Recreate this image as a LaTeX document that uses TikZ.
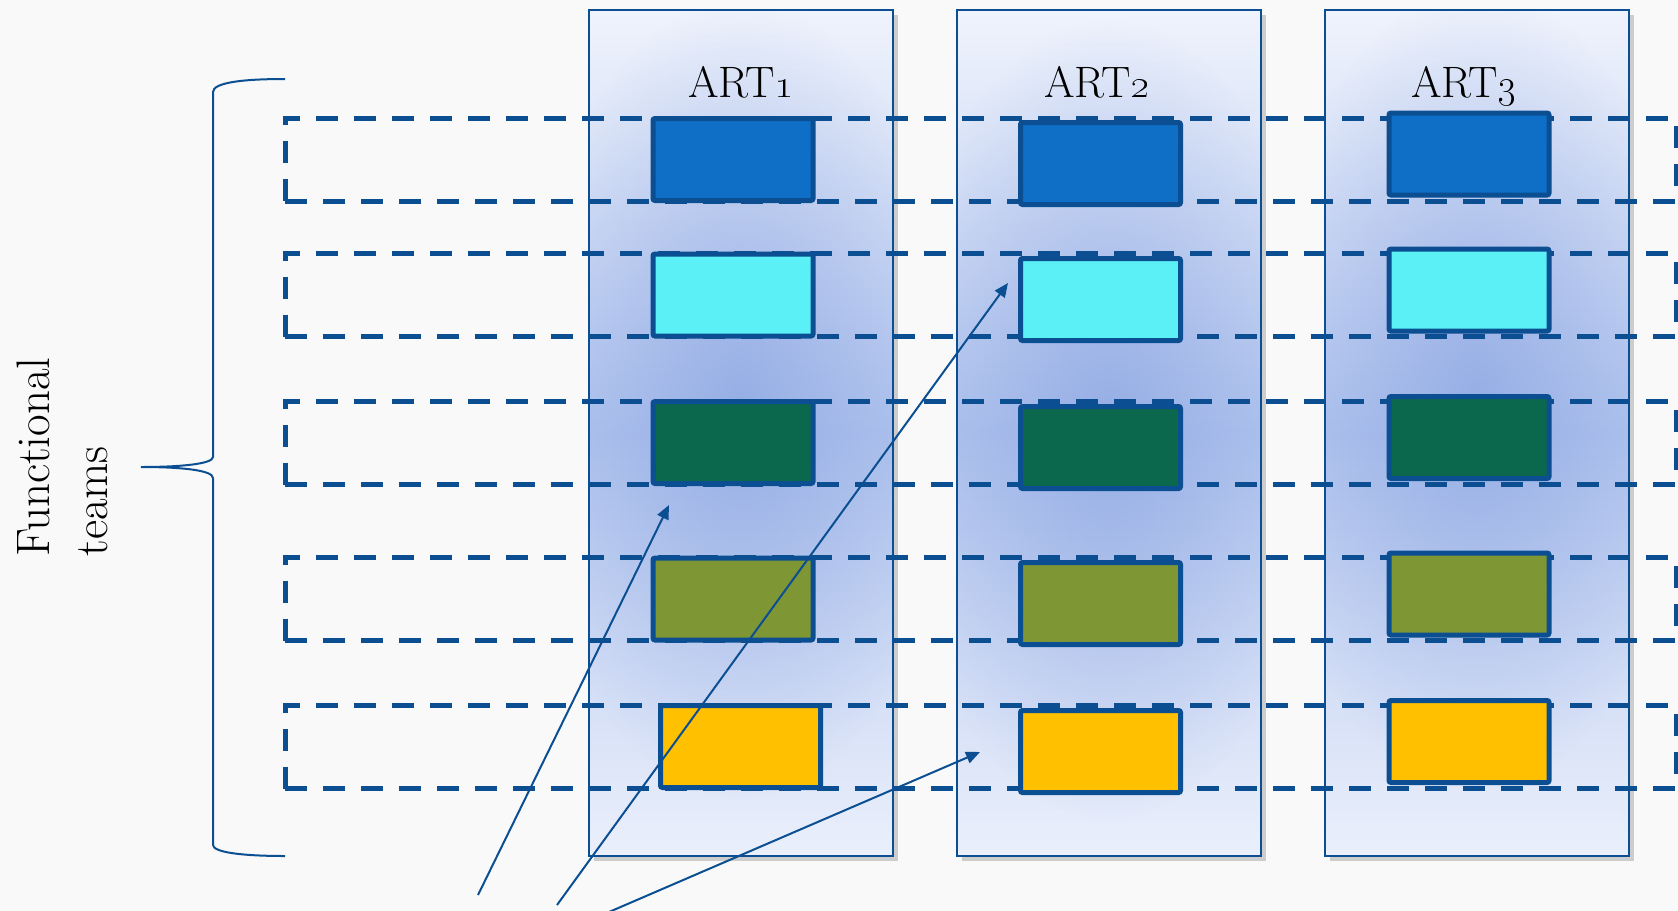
\documentclass[tikz,border=0pt]{standalone}
\usetikzlibrary{arrows.meta,shadows,fadings}
\definecolor{lineblue}{HTML}{0B4F92}
\definecolor{bgc}{HTML}{F9F9F9}
\definecolor{coltop}{HTML}{EFF3FC}
\definecolor{colmid}{HTML}{B3C6EF}
\definecolor{colbot}{HTML}{EAEFFB}
\definecolor{colcore}{HTML}{86A1E0}
\definecolor{cA}{HTML}{0F6FC6}
\definecolor{cB}{HTML}{5BF0F6}
\definecolor{cC}{HTML}{0B684C}
\definecolor{cD}{HTML}{7F9634}
\definecolor{cE}{HTML}{FFC000}
\tikzfading[name=radfade, inner color=transparent!35, outer color=transparent!100]
\tikzset{
  artcol/.style={draw=lineblue, line width=1pt, inner sep=0pt, outer sep=0pt,
    minimum width=152pt, minimum height=423pt, top color=coltop, bottom color=colbot, middle color=colmid,
    drop shadow={shadow xshift=2.5pt, shadow yshift=-2.5pt, opacity=0.25, fill=black!70}},
  rowbox/.style={draw=lineblue, line width=2.5pt, dash pattern=on 11pt off 8pt, inner sep=0pt,
    minimum height=41.5pt},
  teambox/.style={draw=lineblue, line width=2.5pt, rounded corners=1pt, inner sep=0pt,
    minimum width=80pt, minimum height=41pt},
  arttitle/.style={font=\fontsize{22pt}{26pt}\selectfont, anchor=base, inner sep=0pt},
  sidelabel/.style={font=\fontsize{23.5pt}{28pt}\selectfont, rotate=90, anchor=base west, inner sep=0pt},
  conn/.style={draw=lineblue, line width=1pt, -{Triangle[length=7pt,width=6pt]}},
  bracepath/.style={draw=lineblue, line width=1pt},
  colborder/.style={draw=lineblue, line width=1pt}
}
\begin{document}
\begin{tikzpicture}[x=0.5pt,y=-0.5pt]
\fill[bgc] (0,0) rectangle (1678,911);
\useasboundingbox (0,0) rectangle (1678,911);
% columns
\node[artcol] (art1) at (741,433) {};
\node[artcol] (art2) at (1109,433) {};
\node[artcol] (art3) at (1477,433) {};
\begin{scope}
  \clip (art1.south west) rectangle (art1.north east);
  \fill[colcore, path fading=radfade] (741,400) ellipse (220 and 400);
\end{scope}
\begin{scope}
  \clip (art2.south west) rectangle (art2.north east);
  \fill[colcore, path fading=radfade] (1109,420) ellipse (220 and 400);
\end{scope}
\begin{scope}
  \clip (art3.south west) rectangle (art3.north east);
  \fill[colcore, path fading=radfade] (1477,390) ellipse (220 and 400);
\end{scope}
\draw[colborder] (art1.south west) rectangle (art1.north east);
\draw[colborder] (art2.south west) rectangle (art2.north east);
\draw[colborder] (art3.south west) rectangle (art3.north east);
% titles
\node[arttitle] (title1) at (741,97) {ART\oldstylenums{1}};
\node[arttitle] (title2) at (1097,97) {ART\oldstylenums{2}};
\node[arttitle] (title3) at (1464,97) {ART\oldstylenums{3}};
% dashed functional rows
\node[rowbox, minimum width=695.5pt] (row1) at (980.5,159.5) {};
\node[rowbox, minimum width=695.5pt] (row2) at (980.5,295) {};
\node[rowbox, minimum width=695.5pt] (row3) at (980.5,443) {};
\node[rowbox, minimum width=695.5pt] (row4) at (980.5,599) {};
\node[rowbox, minimum width=695.5pt] (row5) at (980.5,747) {};
% team boxes ART1
\node[teambox, fill=cA] (a1) at (733,159.5) {};
\node[teambox, fill=cB] (a2) at (733,295) {};
\node[teambox, fill=cC] (a3) at (733,442.5) {};
\node[teambox, fill=cD] (a4) at (733,599) {};
\node[teambox, fill=cE] (a5) at (740.5,746.5) {};
% team boxes ART2
\node[teambox, fill=cA] (b1) at (1100.5,163.5) {};
\node[teambox, fill=cB] (b2) at (1100.5,299.5) {};
\node[teambox, fill=cC] (b3) at (1100.5,447.5) {};
\node[teambox, fill=cD] (b4) at (1100.5,603.5) {};
\node[teambox, fill=cE] (b5) at (1100.5,751.5) {};
% team boxes ART3
\node[teambox, fill=cA] (c1) at (1469,154) {};
\node[teambox, fill=cB] (c2) at (1469,290) {};
\node[teambox, fill=cC] (c3) at (1469,437.5) {};
\node[teambox, fill=cD] (c4) at (1469,594) {};
\node[teambox, fill=cE] (c5) at (1469,741.5) {};
% brace
\draw[bracepath] (285,79) .. controls (240,79) and (213,83) .. (213,92) -- (213,457)
  .. controls (213,464) and (180,467) .. (141,467)
  .. controls (180,467) and (213,470) .. (213,478) -- (213,845)
  .. controls (213,852) and (240,856) .. (285,856);
% side label
\node[sidelabel] (lab1) at (49,557) {Functional};
\node[sidelabel] (lab2) at (107,557) {teams};
% arrows
\coordinate (s1) at (478,895);
\coordinate (e1) at (669,505);
\coordinate (s2) at (557,905);
\coordinate (e2) at (1008,283);
\coordinate (s3) at (609,912);
\coordinate (e3) at (980,752);
\draw[conn] (s1) -- (e1);
\draw[conn] (s2) -- (e2);
\draw[conn] (s3) -- (e3);
\end{tikzpicture}
\end{document}
